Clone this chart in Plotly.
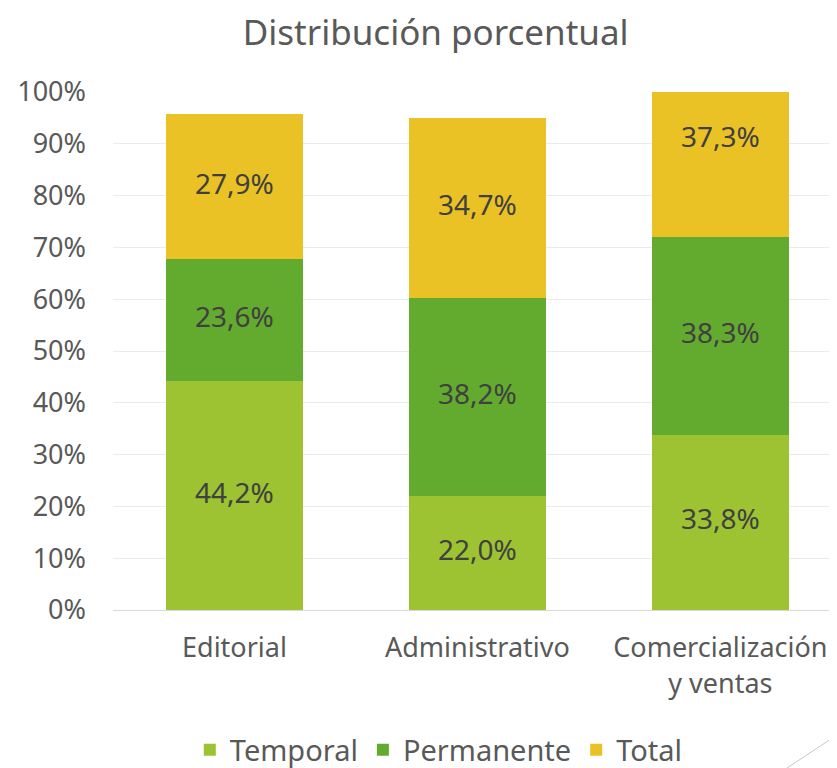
import plotly.graph_objects as go

categories = ["Editorial", "Administrativo", "Comercialización<br>y ventas"]
temporal = [44.2, 22.0, 33.8]
permanente = [23.6, 38.2, 38.3]
total = [27.9, 34.7, 37.3]
y_ticks = [0, 10, 20, 30, 40, 50, 60, 70, 80, 90, 100]

series = [("Temporal", temporal, "#9DC332"),
          ("Permanente", permanente, "#63AB2F"),
          ("Total", total, "#EBC226")]

FONT = "Noto Sans"
GRAY = "#595959"

fig = go.Figure()
for name, vals, col in series:
    fig.add_trace(go.Bar(x=categories, y=vals, name=name, marker_color=col,
                         marker_line_width=0, hoverinfo="skip"))

# data labels at middle of each segment
base = [0.0] * len(categories)
for name, vals, col in series:
    mids = [b + v / 2 for b, v in zip(base, vals)]
    fig.add_trace(go.Scatter(x=categories, y=mids, mode="text",
                             text=[f"{v:.1f}%".replace(".", ",") for v in vals],
                             textfont=dict(family=FONT, size=28, color="#404040"),
                             showlegend=False, cliponaxis=False, hoverinfo="skip"))
    base = [b + v for b, v in zip(base, vals)]

fig.update_layout(
    barmode="stack",
    bargap=0.436,
    width=837, height=768,
    margin=dict(l=105, r=8, t=84, b=166, autoexpand=False),
    paper_bgcolor="white", plot_bgcolor="white",
    font=dict(family=FONT, color=GRAY),
    title=dict(text="Distribución porcentual", x=0.511, xanchor="center",
               y=1 - 25 / 768, yanchor="middle",
               font=dict(family=FONT, size=35, color=GRAY)),
    legend=dict(orientation="h", x=0.45, xanchor="center", y=-0.27, yanchor="middle",
                font=dict(family=FONT, size=29, color=GRAY), itemwidth=30,
                traceorder="normal"),
    showlegend=True,
)
fig.update_xaxes(range=[-0.5, 2.48], tickfont=dict(family=FONT, size=27, color=GRAY),
                 showline=True, linecolor="#d9d9d9", linewidth=1, ticks="",
                 showgrid=False, ticklabelstandoff=14, automargin=False)
fig.update_yaxes(range=[0, 100], tickvals=y_ticks, ticktext=[f"{t}%" for t in y_ticks],
                 tickfont=dict(family=FONT, size=27, color=GRAY),
                 showgrid=True, gridcolor="#ebebeb", gridwidth=1, zeroline=False,
                 ticklabelstandoff=26, automargin=False)

# decorative slide line bottom-right
fig.add_shape(type="line", xref="paper", yref="paper",
              x0=1.0, y0=-125 / 518, x1=0.931, y1=-158 / 518,
              line=dict(color="#c8c8c8", width=1))

fig.write_html("out.html")
